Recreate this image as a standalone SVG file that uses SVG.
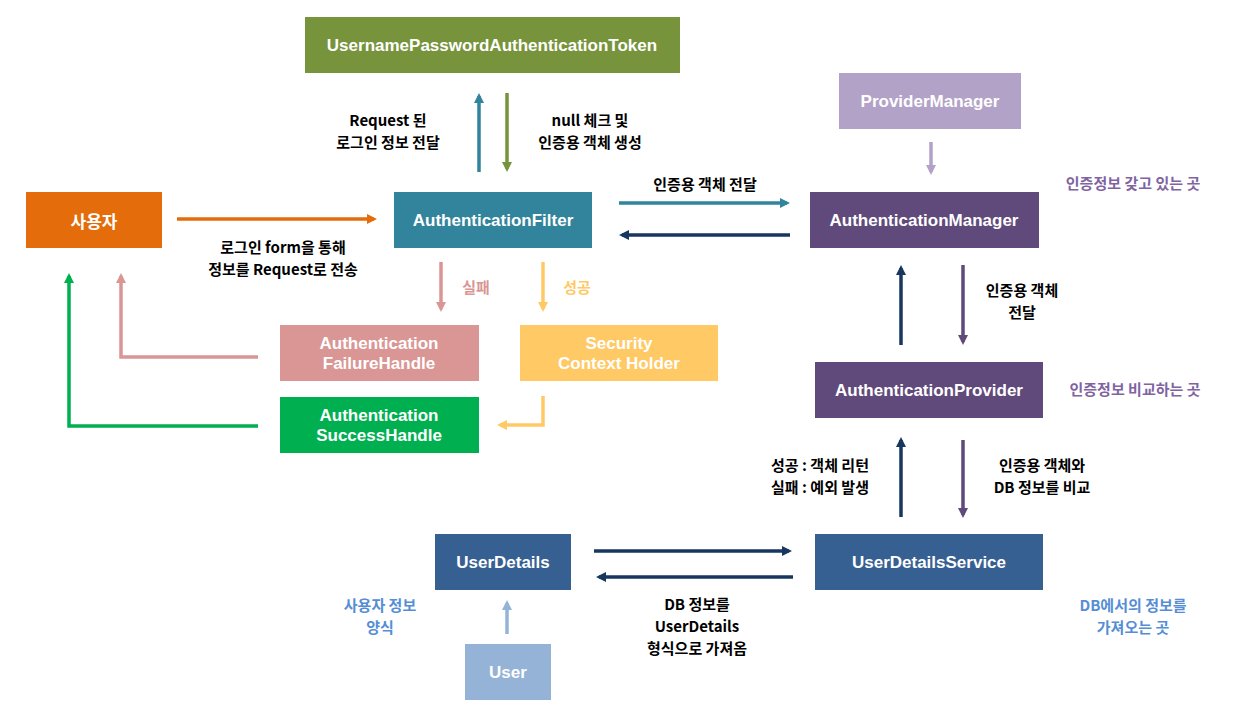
<svg xmlns="http://www.w3.org/2000/svg" width="1252" height="722" viewBox="0 0 1252 722">
<style>
text{font-family:"Noto Sans CJK KR","Noto Sans",sans-serif;font-weight:700;text-anchor:middle;dominant-baseline:central}
.n{fill:#fff;font-size:17px;font-family:"Liberation Sans","Noto Sans CJK KR",sans-serif}
.k{fill:#fff;font-size:17px}
.l{fill:#000;font-size:15px}
.c{fill:none;stroke-width:3.5}
</style>
<defs>
<marker id="aOr" viewBox="0 0 10 10" refX="7" refY="5" markerWidth="10" markerHeight="10" markerUnits="userSpaceOnUse" orient="auto"><path d="M0,0L10,5L0,10z" fill="#e46c0a"/></marker>
<marker id="aTe" viewBox="0 0 10 10" refX="7" refY="5" markerWidth="10" markerHeight="10" markerUnits="userSpaceOnUse" orient="auto"><path d="M0,0L10,5L0,10z" fill="#31849b"/></marker>
<marker id="aOl" viewBox="0 0 10 10" refX="7" refY="5" markerWidth="10" markerHeight="10" markerUnits="userSpaceOnUse" orient="auto"><path d="M0,0L10,5L0,10z" fill="#77933c"/></marker>
<marker id="aNv" viewBox="0 0 10 10" refX="7" refY="5" markerWidth="10" markerHeight="10" markerUnits="userSpaceOnUse" orient="auto"><path d="M0,0L10,5L0,10z" fill="#17375e"/></marker>
<marker id="aLp" viewBox="0 0 10 10" refX="7" refY="5" markerWidth="10" markerHeight="10" markerUnits="userSpaceOnUse" orient="auto"><path d="M0,0L10,5L0,10z" fill="#b3a2c7"/></marker>
<marker id="aDp" viewBox="0 0 10 10" refX="7" refY="5" markerWidth="10" markerHeight="10" markerUnits="userSpaceOnUse" orient="auto"><path d="M0,0L10,5L0,10z" fill="#604a7b"/></marker>
<marker id="aPk" viewBox="0 0 10 10" refX="7" refY="5" markerWidth="10" markerHeight="10" markerUnits="userSpaceOnUse" orient="auto"><path d="M0,0L10,5L0,10z" fill="#d99694"/></marker>
<marker id="aYe" viewBox="0 0 10 10" refX="7" refY="5" markerWidth="10" markerHeight="10" markerUnits="userSpaceOnUse" orient="auto"><path d="M0,0L10,5L0,10z" fill="#ffc965"/></marker>
<marker id="aGr" viewBox="0 0 10 10" refX="7" refY="5" markerWidth="10" markerHeight="10" markerUnits="userSpaceOnUse" orient="auto"><path d="M0,0L10,5L0,10z" fill="#00b050"/></marker>
<marker id="aLb" viewBox="0 0 10 10" refX="7" refY="5" markerWidth="10" markerHeight="10" markerUnits="userSpaceOnUse" orient="auto"><path d="M0,0L10,5L0,10z" fill="#95b3d7"/></marker>
</defs>
<rect width="1252" height="722" fill="#fff"/>

<g id="connectors">
<path class="c" stroke="#e46c0a" d="M177,219H374" marker-end="url(#aOr)"/>
<path class="c" stroke="#31849b" d="M479,172V96" marker-end="url(#aTe)"/>
<path class="c" stroke="#77933c" d="M507,93V169" marker-end="url(#aOl)"/>
<path class="c" stroke="#31849b" d="M619,203H787" marker-end="url(#aTe)"/>
<path class="c" stroke="#17375e" d="M790,235H622" marker-end="url(#aNv)"/>
<path class="c" stroke="#b3a2c7" d="M931,142V172" marker-end="url(#aLp)"/>
<path class="c" stroke="#17375e" d="M901,345V268" marker-end="url(#aNv)"/>
<path class="c" stroke="#604a7b" d="M963,265V342" marker-end="url(#aDp)"/>
<path class="c" stroke="#17375e" d="M901,517V440" marker-end="url(#aNv)"/>
<path class="c" stroke="#604a7b" d="M963,440V515" marker-end="url(#aDp)"/>
<path class="c" stroke="#17375e" d="M594,551H789" marker-end="url(#aNv)"/>
<path class="c" stroke="#17375e" d="M793,577H599" marker-end="url(#aNv)"/>
<path class="c" stroke="#95b3d7" d="M507,634V603" marker-end="url(#aLb)"/>
<path class="c" stroke="#d99694" d="M441,262V309" marker-end="url(#aPk)"/>
<path class="c" stroke="#ffc965" d="M543,262V309" marker-end="url(#aYe)"/>
<path class="c" stroke="#ffc965" d="M543,396V425H500" marker-end="url(#aYe)"/>
<path class="c" stroke="#d99694" d="M258,357H121V276" marker-end="url(#aPk)"/>
<path class="c" stroke="#00b050" d="M258,426H69V276" marker-end="url(#aGr)"/>
</g>

<g id="token"><rect x="305" y="17" width="375" height="56" fill="#77933c"/><text class="n" x="492" y="45">UsernamePasswordAuthenticationToken</text></g>
<g id="user-actor"><rect x="26" y="192" width="136" height="56" fill="#e46c0a"/><text class="k" x="94" y="220">사용자</text></g>
<g id="filter"><rect x="394" y="192" width="198" height="56" fill="#31849b"/><text class="n" x="493" y="220">AuthenticationFilter</text></g>
<g id="provider-manager"><rect x="839" y="73" width="182" height="56" fill="#b3a2c7"/><text class="n" x="930" y="101">ProviderManager</text></g>
<g id="auth-manager"><rect x="810" y="192" width="229" height="56" fill="#604a7b"/><text class="n" x="924" y="220">AuthenticationManager</text></g>
<g id="failure"><rect x="280" y="325" width="199" height="56" fill="#d99694"/><text class="n" x="379" y="343">Authentication</text><text class="n" x="379" y="363">FailureHandle</text></g>
<g id="security"><rect x="520" y="325" width="198" height="56" fill="#ffc965"/><text class="n" x="619" y="343">Security</text><text class="n" x="619" y="363">Context Holder</text></g>
<g id="success"><rect x="280" y="397" width="199" height="56" fill="#00b050"/><text class="n" x="379" y="415">Authentication</text><text class="n" x="379" y="435">SuccessHandle</text></g>
<g id="auth-provider"><rect x="815" y="362" width="228" height="56" fill="#604a7b"/><text class="n" x="929" y="390">AuthenticationProvider</text></g>
<g id="uds"><rect x="815" y="534" width="228" height="56" fill="#376092"/><text class="n" x="929" y="562">UserDetailsService</text></g>
<g id="user-details"><rect x="435" y="534" width="136" height="56" fill="#376092"/><text class="n" x="503" y="562">UserDetails</text></g>
<g id="user"><rect x="465" y="644" width="86" height="56" fill="#95b3d7"/><text class="n" x="508" y="672">User</text></g>

<g id="labels">
<text class="l" x="388" y="119">Request 된</text>
<text class="l" x="388" y="141">로그인 정보 전달</text>
<text class="l" x="590" y="119">null 체크 및</text>
<text class="l" x="590" y="141">인증용 객체 생성</text>
<text class="l" x="283" y="246">로그인 form을 통해</text>
<text class="l" x="283" y="268">정보를 Request로 전송</text>
<text class="l" x="705" y="183">인증용 객체 전달</text>
<text class="l" x="1022" y="289">인증용 객체</text>
<text class="l" x="1022" y="311">전달</text>
<text class="l" x="820" y="464">성공 : 객체 리턴</text>
<text class="l" x="820" y="486">실패 : 예외 발생</text>
<text class="l" x="1042" y="464">인증용 객체와</text>
<text class="l" x="1042" y="486">DB 정보를 비교</text>
<text class="l" x="697" y="603">DB 정보를</text>
<text class="l" x="697" y="625">UserDetails</text>
<text class="l" x="697" y="647">형식으로 가져옴</text>
<text class="l" x="476" y="286" style="fill:#d99694">실패</text>
<text class="l" x="577" y="286" style="fill:#ffc965">성공</text>
<text class="l" x="1133" y="182" style="fill:#8064a2">인증정보 갖고 있는 곳</text>
<text class="l" x="1135" y="388" style="fill:#8064a2">인증정보 비교하는 곳</text>
<text class="l" x="380" y="604" style="fill:#558ed5">사용자 정보</text>
<text class="l" x="380" y="626" style="fill:#558ed5">양식</text>
<text class="l" x="1133" y="604" style="fill:#558ed5">DB에서의 정보를</text>
<text class="l" x="1133" y="626" style="fill:#558ed5">가져오는 곳</text>
</g>
</svg>
